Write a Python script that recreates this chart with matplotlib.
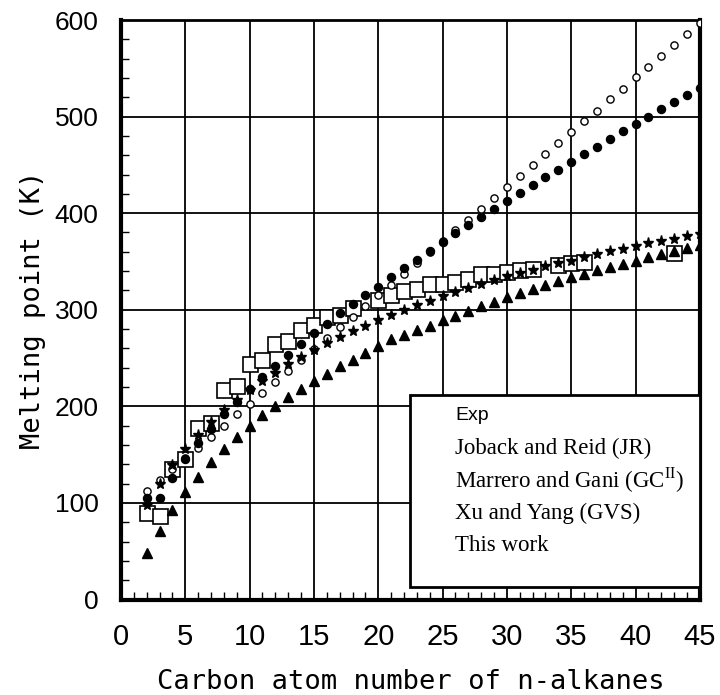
import matplotlib
matplotlib.use("Agg")
import matplotlib.pyplot as plt
from matplotlib.ticker import MultipleLocator
from matplotlib.patches import Rectangle

# carbon numbers for the model series
n_model = list(range(2, 46))

# experimental melting points (K), n-alkanes
n_exp = [2, 3, 4, 5, 6, 7, 8, 9, 10, 11, 12, 13, 14, 15, 16, 17, 18,
         20, 21, 22, 23, 24, 25, 26, 27, 28, 29, 30, 31, 32, 34, 35, 36, 43]
tm_exp = [90, 86, 135, 145, 178, 183, 217, 221, 244, 248, 265, 268, 279, 284, 292, 295, 302,
          310, 315, 319, 321, 327, 327, 329, 332, 337, 337, 339, 341, 342.5, 346, 348, 349.5, 359]

# Joback and Reid (open circles)
tm_jr = [112.5, 124, 134.7, 146, 157, 168.7, 180, 191.7, 202.8, 214.3, 225.3, 236.8, 248, 259.4,
         270.8, 282, 293, 304, 315, 326, 337, 348.4, 360, 371, 383, 393, 404.7, 415.8, 427, 439,
         450, 461, 473, 484, 495, 506, 518, 529, 540.5, 551.7, 563, 574.6, 585.7, 597]

# Marrero and Gani (filled circles)
tm_mg = [105, 105, 125.7, 145.5, 162, 177, 192, 205, 217.7, 230.5, 242, 253, 264.6, 275.7,
         285.7, 296.5, 306, 315, 324, 333.5, 343, 352, 361, 370.5, 379.5, 387.4, 396, 404.3, 413,
         421, 429, 437, 445, 453.4, 461, 469, 476.7, 484.7, 492.3, 500, 507.7, 515, 522.3, 530]

# Xu and Yang (triangles)
tm_gvs = [48, 71, 93, 111, 127, 142, 156, 168, 179.5, 191, 200.3, 209.7, 217.7, 226, 233.3,
          241.3, 248, 255, 262, 269.6, 274, 278.6, 283.7, 289, 293.8, 298.3, 303.4, 308, 313,
          317.3, 321.5, 325.6, 329.7, 333.9, 337.3, 340.7, 343.8, 347.3, 351, 354.2, 357.7,
          361, 364, 367.4]

# this work (stars)
tm_tw = [98, 119.5, 139, 156, 170.5, 184, 196, 206.6, 217, 226.4, 235, 243.7, 250.7, 258.7,
         265.3, 272.3, 277.5, 283.4, 289, 294.8, 300, 304.5, 309.3, 314.5, 318.3, 322.5, 327,
         331, 334.5, 338, 341.5, 345, 348.4, 351, 354.6, 358, 360.4, 363.2, 366.3, 369, 371.5,
         373.6, 376, 378.8]

labels = ["Exp", "Joback and Reid (JR)", r"Marrero and Gani (GC$^{\mathrm{II}}$)",
          "Xu and Yang (GVS)", "This work"]

plt.rcParams["mathtext.fontset"] = "custom"
plt.rcParams["mathtext.rm"] = "Liberation Serif"

fig = plt.figure(figsize=(7.2, 6.95), dpi=100)
ax = fig.add_axes([0.168, 0.1374, 0.804, 0.8338])

ax.plot(n_exp, tm_exp, ls="none", marker="s", ms=10.8, mfc="white", mec="black", mew=1.2, zorder=3)
ax.plot(n_model, tm_jr, ls="none", marker="o", ms=5.2, mfc="white", mec="black", mew=1.0, zorder=4)
ax.plot(n_model, tm_mg, ls="none", marker="o", ms=5.8, mfc="black", mec="black", zorder=4)
ax.plot(n_model, tm_gvs, ls="none", marker="^", ms=6.8, mfc="black", mec="black", zorder=4)
ax.plot(n_model, tm_tw, ls="none", marker="*", ms=8, mfc="black", mec="black", zorder=4)

ax.set_xlim(0, 45)
ax.set_ylim(0, 600)
ax.xaxis.set_major_locator(MultipleLocator(5))
ax.xaxis.set_minor_locator(MultipleLocator(1))
ax.yaxis.set_major_locator(MultipleLocator(100))
ax.yaxis.set_minor_locator(MultipleLocator(20))
ax.grid(True, which="major", color="black", lw=1.3)
ax.set_axisbelow(True)

ax.tick_params(which="both", direction="in", top=False, right=False)
ax.tick_params(which="major", length=0)
ax.tick_params(which="minor", length=6, width=1)
ax.tick_params(axis="y", which="major", pad=16)
ax.tick_params(axis="x", which="major", pad=17)

for lab in ax.get_yticklabels():
    lab.set_fontfamily("Liberation Sans")
    lab.set_fontsize(19)
for lab in ax.get_xticklabels():
    lab.set_fontfamily(["Liberation Sans Narrow", "Liberation Sans"])
    lab.set_fontsize(21)

for side in ["left", "bottom", "right"]:
    ax.spines[side].set_linewidth(3)
ax.spines["top"].set_linewidth(2)

ax.set_xlabel("Carbon atom number of n-alkanes", family="DejaVu Sans Mono", fontsize=19.5, labelpad=13)
ax.set_ylabel("Melting point (K)", family="DejaVu Sans Mono", fontsize=19.5, labelpad=6)

# legend box (text only, as in the original)
ax.add_patch(Rectangle((0.499, 0.0216), 0.501, 0.3314, transform=ax.transAxes,
                       facecolor="white", edgecolor="black", lw=2, zorder=5, clip_on=False))
text_y = [0.318, 0.261, 0.206, 0.149, 0.094]
for i, (lab, ty) in enumerate(zip(labels, text_y)):
    if i == 0:
        ax.text(0.577, ty, lab, transform=ax.transAxes, va="center", ha="left",
                family="Liberation Sans", fontsize=14, zorder=6)
    else:
        ax.text(0.577, ty, lab, transform=ax.transAxes, va="center", ha="left",
                family="Liberation Serif", fontsize=16.5, zorder=6)

fig.savefig("out.png", dpi=100)
